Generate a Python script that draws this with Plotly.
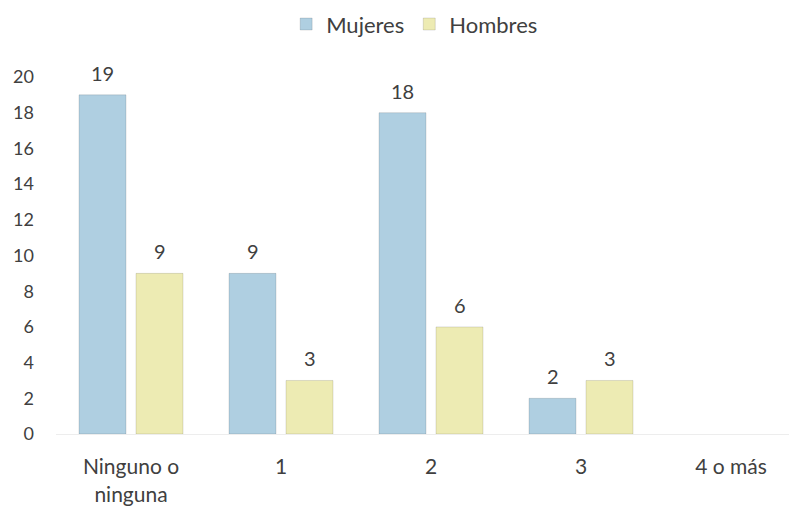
import plotly.graph_objects as go

categories = ["Ninguno o<br>ninguna", "1", "2", "3", "4 o más"]
mujeres = [19, 9, 18, 2, 0]
hombres = [9, 3, 6, 3, 0]
y_ticks = [0, 2, 4, 6, 8, 10, 12, 14, 16, 18, 20]

x = list(range(len(categories)))
FONT = "Lato"
TXT = "#404040"
BARGAP = 0.24
slot = (1 - BARGAP) / 2

fig = go.Figure()
for name, vals, color, sign in [("Mujeres", mujeres, "#AFCFE1", -1),
                                ("Hombres", hombres, "#EDEBB3", 1)]:
    fig.add_trace(go.Bar(
        name=name, x=x, y=vals,
        marker=dict(color=color,
                    line=dict(color="rgba(0,0,0,0.12)",
                              width=[1 if v else 0 for v in vals])),
    ))
    for xi, v in zip(x, vals):
        if v:
            fig.add_annotation(x=xi + sign * slot / 2, y=v, text=str(v),
                               showarrow=False, yshift=22,
                               font=dict(size=20, color=TXT, family=FONT))

# note: page body has an 8px default margin, offsets compensated below
fig.update_layout(
    width=797, height=506,
    margin=dict(l=48, r=8, t=69, b=80),
    paper_bgcolor="white", plot_bgcolor="white",
    barmode="group", bargap=BARGAP, bargroupgap=0.175,
    font=dict(family=FONT, color=TXT, size=17),
    legend=dict(orientation="h", x=0.484, xanchor="center", y=0.968, yanchor="middle",
                yref="container", font=dict(size=22, color=TXT, family=FONT),
                traceorder="normal"),
    showlegend=True,
)
fig.update_xaxes(
    tickmode="array", tickvals=x, ticktext=categories, range=[-0.5, 4.44],
    showline=True, linecolor="#EDEDED", linewidth=1, ticks="", showgrid=False,
    tickfont=dict(size=21, color=TXT, family=FONT), zeroline=False,
    automargin=False, ticklabelstandoff=14,
)
fig.update_yaxes(
    range=[0, 20], tickmode="array", tickvals=y_ticks, showgrid=False,
    zeroline=False, showline=False, ticks="", ticklabelstandoff=21,
    tickfont=dict(size=18, color=TXT, family=FONT), automargin=False,
)
fig.write_html("out.html")
